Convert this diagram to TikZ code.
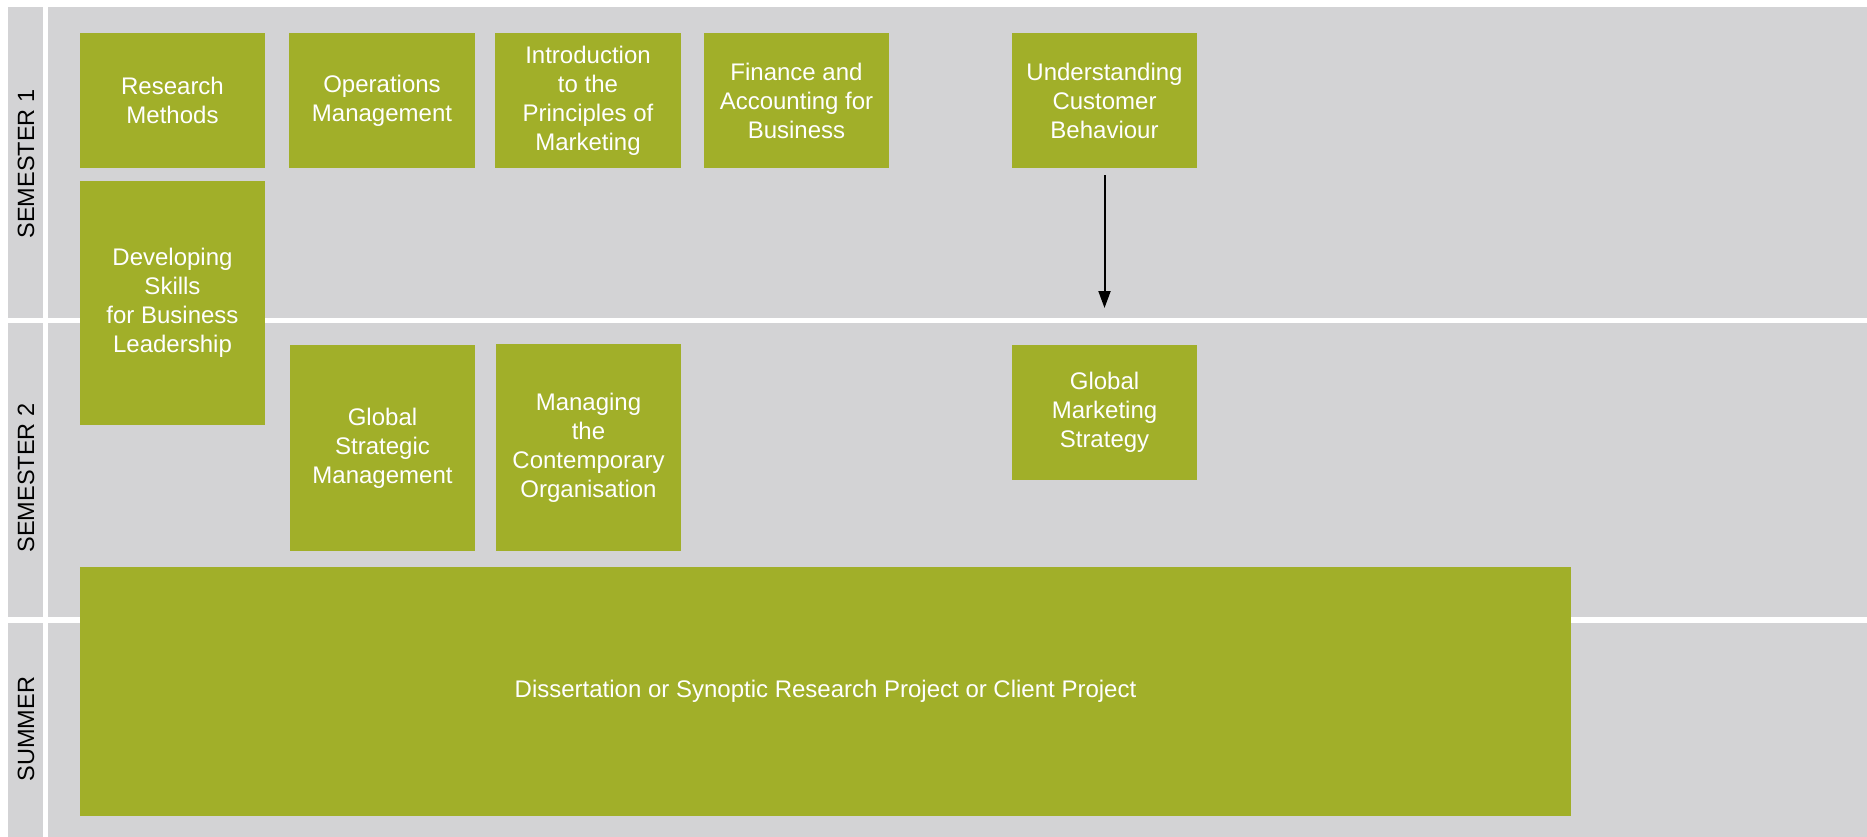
\documentclass[tikz,border=0pt]{standalone}
\usepackage{fontspec}
\setmainfont{Liberation Sans}
\usetikzlibrary{arrows.meta}
\definecolor{modgreen}{RGB}{161,175,41}
\definecolor{bandgray}{RGB}{211,211,213}
\begin{document}
\begin{tikzpicture}[x=1pt,y=-1pt,
  module/.style={fill=modgreen,draw=none,text=white,align=center,inner sep=0pt,
    font=\fontsize{24}{29}\selectfont},
  rowlabel/.style={rotate=90,text=black,font=\fontsize{23.5}{26}\selectfont,inner sep=0pt},
  sep/.style={fill=white,draw=none}]
\useasboundingbox (0,0) rectangle (1867,837);
\fill[white] (0,0) rectangle (1867,837);
% backgrounds
\fill[bandgray] (8,7) rectangle (43,837);
\fill[bandgray] (48,7) rectangle (1867,837);
\fill[sep] (8,318) rectangle (1867,323);
\fill[sep] (8,617) rectangle (1867,623);
% row labels
\node[rowlabel] (s1) at (26,164) {SEMESTER 1};
\node[rowlabel] (s2) at (26,478) {SEMESTER 2};
\node[rowlabel] (su) at (26,729) {SUMMER};
% semester 1
\node[module,minimum width=185,minimum height=135] (rm) at (172.5,100.5) {Research\\Methods};
\node[module,minimum width=186,minimum height=135] (om) at (382,100.5) {Operations\\Management};
\node[module,minimum width=186,minimum height=135] (ip) at (588,100.5) {Introduction\\to the\\Principles of\\Marketing};
\node[module,minimum width=185,minimum height=135] (fa) at (796.5,100.5) {Finance and\\Accounting for\\Business};
\node[module,minimum width=185,minimum height=135] (uc) at (1104.5,100.5) {Understanding\\Customer\\Behaviour};
\node[module,minimum width=185,minimum height=244] (ds) at (172.5,303) {Developing\\Skills\\for Business\\Leadership};
% semester 2
\node[module,minimum width=185,minimum height=206] (gs) at (382.5,448) {Global\\Strategic\\Management};
\node[module,minimum width=185,minimum height=207] (mc) at (588.5,447.5) {Managing\\the\\Contemporary\\Organisation};
\node[module,minimum width=185,minimum height=135] (gm) at (1104.5,412.5) {Global\\Marketing\\Strategy};
% summer
\node[module,minimum width=1491,minimum height=249] (dp) at (825.5,691.5) {Dissertation or Synoptic Research Project or Client Project};
% arrow
\coordinate (aend) at (1104.5,308);
\draw[line width=2pt,-{Triangle[length=17pt,width=12pt]}] ([yshift=-7pt]uc.south) -- (aend);
\end{tikzpicture}
\end{document}
